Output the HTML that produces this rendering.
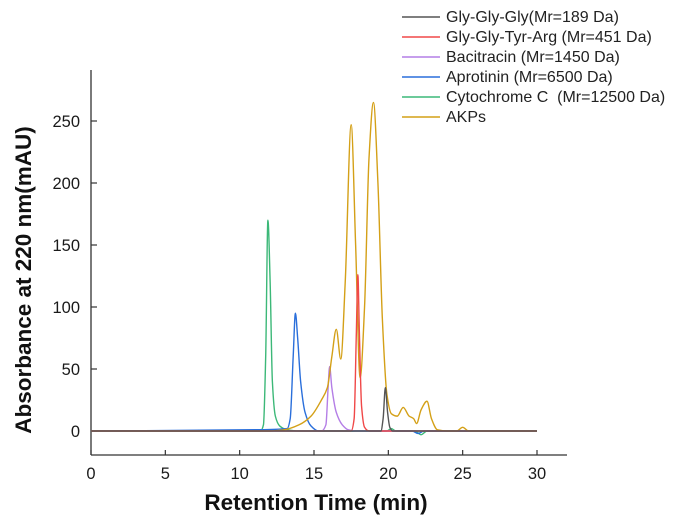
<!DOCTYPE html>
<html><head><meta charset="utf-8"><style>
body{margin:0;background:#fff;}
svg{display:block;font-family:"Liberation Sans",Arial,sans-serif;}
text{white-space:pre;}
</style></head><body>
<svg id="chart" width="684" height="522" viewBox="0 0 684 522">
<g id="axes"></g>
<g id="series"></g>
<g id="legend"></g>
<text x="316" y="510" text-anchor="middle" font-size="22.5" font-weight="bold" fill="#111">Retention Time (min)</text>
<text transform="translate(31,280) rotate(-90)" text-anchor="middle" font-size="22.5" font-weight="bold" fill="#111">Absorbance at 220 nm(mAU)</text>
</svg>
<script>
const xTicks=[0,5,10,15,20,25,30];
const yTicks=[0,50,100,150,200,250];
const seriesNames=["Gly-Gly-Gly(Mr=189 Da)","Gly-Gly-Tyr-Arg (Mr=451 Da)","Bacitracin (Mr=1450 Da)","Aprotinin (Mr=6500 Da)","Cytochrome C  (Mr=12500 Da)","AKPs"];
const seriesColors=["#555555","#f04848","#b47ee6","#2a6fdb","#3cb878","#d4a017"];
const glyGlyGly=[[0,0],[19.5,0],[19.65,10],[19.8,35],[19.95,15],[20.1,3],[20.3,0],[30,0]];
const glyGlyTyrArg=[[0,0],[17.5,0],[17.7,10],[17.85,80],[17.95,126],[18.05,80],[18.2,20],[18.4,3],[18.7,0],[30,0]];
const bacitracin=[[0,0],[15.5,0],[15.8,5],[15.95,35],[16.05,52],[16.2,35],[16.5,15],[16.9,5],[17.3,1],[17.8,0],[30,0]];
const aprotinin=[[0,0],[11,1],[13.2,2],[13.4,10],[13.6,60],[13.75,95],[13.9,75],[14.1,40],[14.4,15],[14.8,4],[15.3,0],[21.6,0],[22,-2],[22.4,0],[30,0]];
const cytochromeC=[[0,0],[11.4,0],[11.6,5],[11.75,60],[11.9,170],[12.05,120],[12.2,40],[12.4,12],[12.7,4],[13.2,1],[14,0],[19.9,0],[20.2,2],[20.5,0],[21.8,0],[22.2,-3],[22.6,0],[30,0]];
const akps=[[0,0],[12,0],[13,1],[14,5],[14.8,12],[15.5,25],[15.9,35],[16.2,60],[16.5,82],[16.8,58],[17.1,120],[17.5,247],[17.8,150],[18.1,43],[18.4,100],[18.7,220],[19.0,265],[19.3,200],[19.6,90],[19.9,30],[20.2,14],[20.6,12],[21.0,19],[21.4,12],[21.7,10],[21.9,6],[22.2,17],[22.6,24],[22.9,10],[23.3,1],[24,0],[24.6,0],[25,3],[25.4,0],[30,0]];
const allSeries=[glyGlyGly,glyGlyTyrArg,bacitracin,aprotinin,cytochromeC,akps];
const NS="http://www.w3.org/2000/svg";
function xs(t){return 91+(t-0)*(537-91)/30;}
function ys(v){return 431-v*(431-121)/250;}
function mk(tag,attrs,parent){const e=document.createElementNS(NS,tag);for(const k in attrs)e.setAttribute(k,attrs[k]);parent.appendChild(e);return e;}
const axes=document.getElementById('axes');
let a=mk('line',{x1:91,y1:70,x2:91,y2:455,stroke:'#333','stroke-width':1.3},axes);


a=mk('line',{x1:91,y1:455,x2:567,y2:455,stroke:'#333','stroke-width':1.3},axes);


xTicks.forEach(t=>{
 const l=mk('line',{x1:xs(t),y1:455,x2:xs(t),y2:450,stroke:'#333','stroke-width':1.2},axes);
 
 
 const tx=mk('text',{x:xs(t),y:479,'text-anchor':'middle','font-size':16.5,fill:'#1a1a1a'},axes);
 tx.textContent=t;
 
 
});
yTicks.forEach(v=>{
 const l=mk('line',{x1:91,y1:ys(v),x2:97,y2:ys(v),stroke:'#333','stroke-width':1.2},axes);
 
 
 const tx=mk('text',{x:80,y:ys(v)+6,'text-anchor':'end','font-size':16.5,fill:'#1a1a1a'},axes);
 tx.textContent=v;
 
 
});
function pathD(pts){
 const p=pts.map(q=>[xs(q[0]),ys(q[1])]);
 const n=p.length, m=new Array(n), s=[];
 for(let i=0;i<n-1;i++){s.push((p[i+1][1]-p[i][1])/(p[i+1][0]-p[i][0]));}
 m[0]=s[0]; m[n-1]=s[n-2];
 for(let i=1;i<n-1;i++){
  if(s[i-1]*s[i]<=0){m[i]=0;}
  else{const h0=p[i][0]-p[i-1][0],h1=p[i+1][0]-p[i][0];
   m[i]=3*(h0+h1)/((2*h1+h0)/s[i-1]+(h1+2*h0)/s[i]);}
 }
 let d='M'+p[0][0]+','+p[0][1];
 for(let i=0;i<n-1;i++){
  const h=(p[i+1][0]-p[i][0])/3;
  d+=' C'+(p[i][0]+h)+','+(p[i][1]+m[i]*h)+' '+(p[i+1][0]-h)+','+(p[i+1][1]-m[i+1]*h)+' '+p[i+1][0]+','+p[i+1][1];
 }
 return d;
}
const sg=document.getElementById('series');
const lg=document.getElementById('legend');
const order=[4,3,2,5,1,0];
order.forEach(i=>{
 const pth=mk('path',{d:pathD(allSeries[i]),fill:'none',stroke:seriesColors[i],'stroke-width':1.4,'stroke-linejoin':'round'},sg);
 
 
});
seriesNames.forEach((n,i)=>{
 const y=17+i*20;
 const l=mk('line',{x1:402,y1:y,x2:440,y2:y,stroke:seriesColors[i],'stroke-width':1.5},lg);
 
 
 const tx=mk('text',{x:446,y:y+5,'font-size':16,fill:'#222'},lg);
 tx.textContent=n;
 
 
});
</script>
</body></html>
